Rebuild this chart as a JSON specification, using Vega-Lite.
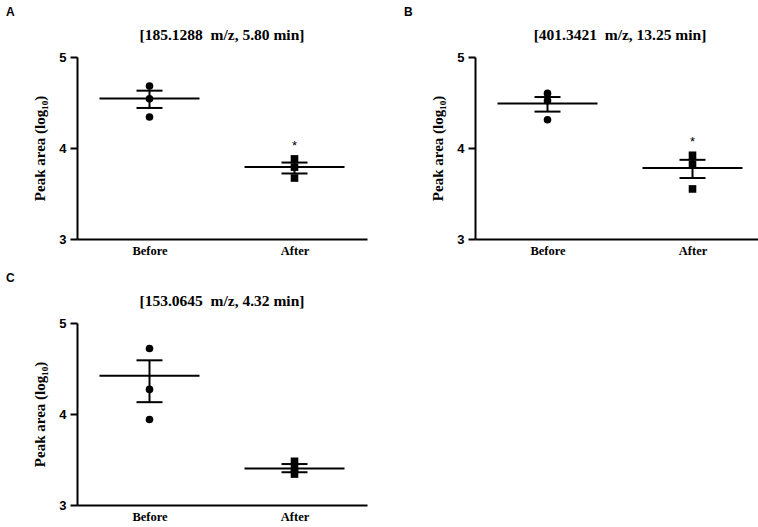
{
  "$schema": "https://vega.github.io/schema/vega-lite/v6.json",
  "padding": {"left": 6, "top": 5, "right": 5, "bottom": 0},
  "background": "white",
  "datasets": {
    "points": [
      {"panel": "A", "group": "Before", "value": 4.68},
      {"panel": "A", "group": "Before", "value": 4.54},
      {"panel": "A", "group": "Before", "value": 4.34},
      {"panel": "A", "group": "After", "value": 3.88},
      {"panel": "A", "group": "After", "value": 3.79},
      {"panel": "A", "group": "After", "value": 3.67},
      {"panel": "B", "group": "Before", "value": 4.60},
      {"panel": "B", "group": "Before", "value": 4.52},
      {"panel": "B", "group": "Before", "value": 4.31},
      {"panel": "B", "group": "After", "value": 3.92},
      {"panel": "B", "group": "After", "value": 3.82},
      {"panel": "B", "group": "After", "value": 3.55},
      {"panel": "C", "group": "Before", "value": 4.72},
      {"panel": "C", "group": "Before", "value": 4.27},
      {"panel": "C", "group": "Before", "value": 3.94},
      {"panel": "C", "group": "After", "value": 3.48},
      {"panel": "C", "group": "After", "value": 3.40},
      {"panel": "C", "group": "After", "value": 3.34}
    ],
    "summary": [
      {"panel": "A", "group": "Before", "mean": 4.545, "lo": 4.44, "hi": 4.63, "star": null},
      {"panel": "A", "group": "After", "mean": 3.79, "lo": 3.72, "hi": 3.84, "star": 4.06},
      {"panel": "B", "group": "Before", "mean": 4.49, "lo": 4.40, "hi": 4.56, "star": null},
      {"panel": "B", "group": "After", "mean": 3.78, "lo": 3.67, "hi": 3.87, "star": 4.10},
      {"panel": "C", "group": "Before", "mean": 4.42, "lo": 4.13, "hi": 4.59, "star": null},
      {"panel": "C", "group": "After", "mean": 3.40, "lo": 3.36, "hi": 3.45, "star": null}
    ]
  },
  "config": {
    "view": {"stroke": null},
    "axis": {
      "domainColor": "black", "domainWidth": 2, "tickColor": "black", "tickWidth": 2,
      "grid": false, "labelColor": "black", "titleColor": "black"
    },
    "axisX": {"title": null, "ticks": false, "labelAngle": 0, "labelFont": "Liberation Serif", "labelFontSize": 12.5, "labelFontWeight": "bold", "labelPadding": 5},
    "tick": {"opacity": 1},
    "title": {"color": "black"}
  },
  "columns": 2,
  "spacing": {"column": 37, "row": 14},
  "concat": [
    {
      "title": {"text": "A", "anchor": "start", "frame": "group", "font": "Liberation Sans", "fontSize": 12, "fontWeight": "bold", "dx": -71, "offset": 9},
      "vconcat": [{
        "width": 290, "height": 182,
        "title": {"text": "[185.1288\u00a0 m/z, 5.80 min]", "font": "Liberation Serif", "fontSize": 15.5, "fontWeight": "bold", "offset": 8},
        "encoding": {
          "x": {"field": "group", "type": "nominal", "sort": ["Before", "After"], "scale": {"type": "point", "padding": 0.5}}
        },
        "layer": [
          {"data": {"name": "summary"}, "transform": [{"filter": "datum.panel === 'A'"}],
           "mark": {"type": "rule", "color": "black", "strokeWidth": 2},
           "encoding": {"y": {"field": "lo", "type": "quantitative", "scale": {"domain": [3, 5], "nice": false},
             "axis": {"tickCount": 2, "labelOverlap": false, "format": "d", "title": "Peak area (log₁₀)", "titleFont": "Liberation Serif", "titleFontSize": 15, "titleFontWeight": "bold", "labelFont": "Liberation Sans", "labelFontSize": 13, "labelFontWeight": "bold", "tickSize": 7, "labelPadding": 4, "titlePadding": 11}},
             "y2": {"field": "hi"}}},
          {"data": {"name": "summary"}, "transform": [{"filter": "datum.panel === 'A'"}],
           "mark": {"type": "tick", "color": "black", "size": 100, "thickness": 2, "opacity": 1},
           "encoding": {"y": {"field": "mean", "type": "quantitative"}}},
          {"data": {"name": "summary"}, "transform": [{"filter": "datum.panel === 'A'"}],
           "mark": {"type": "tick", "color": "black", "size": 26, "thickness": 2, "opacity": 1},
           "encoding": {"y": {"field": "lo", "type": "quantitative"}}},
          {"data": {"name": "summary"}, "transform": [{"filter": "datum.panel === 'A'"}],
           "mark": {"type": "tick", "color": "black", "size": 26, "thickness": 2, "opacity": 1},
           "encoding": {"y": {"field": "hi", "type": "quantitative"}}},
          {"data": {"name": "points"}, "transform": [{"filter": "datum.panel === 'A'"}],
           "mark": {"type": "point", "filled": true, "color": "black", "opacity": 1, "size": 58},
           "encoding": {"y": {"field": "value", "type": "quantitative"},
             "shape": {"field": "group", "type": "nominal", "scale": {"domain": ["Before", "After"], "range": ["circle", "square"]}, "legend": null}}},
          {"data": {"name": "summary"}, "transform": [{"filter": "datum.panel === 'A' && datum.star != null"}],
           "mark": {"type": "text", "text": "*", "font": "Liberation Sans", "fontSize": 13, "color": "black", "baseline": "middle", "dy": 3},
           "encoding": {"y": {"field": "star", "type": "quantitative"}}}
        ]
      }]
    },
    {
      "title": {"text": "B", "anchor": "start", "frame": "group", "font": "Liberation Sans", "fontSize": 12, "fontWeight": "bold", "dx": -71, "offset": 9},
      "vconcat": [{
        "width": 290, "height": 182,
        "title": {"text": "[401.3421\u00a0 m/z, 13.25 min]", "font": "Liberation Serif", "fontSize": 15.5, "fontWeight": "bold", "offset": 8},
        "encoding": {
          "x": {"field": "group", "type": "nominal", "sort": ["Before", "After"], "scale": {"type": "point", "padding": 0.5}}
        },
        "layer": [
          {"data": {"name": "summary"}, "transform": [{"filter": "datum.panel === 'B'"}],
           "mark": {"type": "rule", "color": "black", "strokeWidth": 2},
           "encoding": {"y": {"field": "lo", "type": "quantitative", "scale": {"domain": [3, 5], "nice": false},
             "axis": {"tickCount": 2, "labelOverlap": false, "format": "d", "title": "Peak area (log₁₀)", "titleFont": "Liberation Serif", "titleFontSize": 15, "titleFontWeight": "bold", "labelFont": "Liberation Sans", "labelFontSize": 13, "labelFontWeight": "bold", "tickSize": 7, "labelPadding": 4, "titlePadding": 11}},
             "y2": {"field": "hi"}}},
          {"data": {"name": "summary"}, "transform": [{"filter": "datum.panel === 'B'"}],
           "mark": {"type": "tick", "color": "black", "size": 100, "thickness": 2, "opacity": 1},
           "encoding": {"y": {"field": "mean", "type": "quantitative"}}},
          {"data": {"name": "summary"}, "transform": [{"filter": "datum.panel === 'B'"}],
           "mark": {"type": "tick", "color": "black", "size": 26, "thickness": 2, "opacity": 1},
           "encoding": {"y": {"field": "lo", "type": "quantitative"}}},
          {"data": {"name": "summary"}, "transform": [{"filter": "datum.panel === 'B'"}],
           "mark": {"type": "tick", "color": "black", "size": 26, "thickness": 2, "opacity": 1},
           "encoding": {"y": {"field": "hi", "type": "quantitative"}}},
          {"data": {"name": "points"}, "transform": [{"filter": "datum.panel === 'B'"}],
           "mark": {"type": "point", "filled": true, "color": "black", "opacity": 1, "size": 58},
           "encoding": {"y": {"field": "value", "type": "quantitative"},
             "shape": {"field": "group", "type": "nominal", "scale": {"domain": ["Before", "After"], "range": ["circle", "square"]}, "legend": null}}},
          {"data": {"name": "summary"}, "transform": [{"filter": "datum.panel === 'B' && datum.star != null"}],
           "mark": {"type": "text", "text": "*", "font": "Liberation Sans", "fontSize": 13, "color": "black", "baseline": "middle", "dy": 3},
           "encoding": {"y": {"field": "star", "type": "quantitative"}}}
        ]
      }]
    },
    {
      "title": {"text": "C", "anchor": "start", "frame": "group", "font": "Liberation Sans", "fontSize": 12, "fontWeight": "bold", "dx": -71, "offset": 9},
      "vconcat": [{
        "width": 290, "height": 182,
        "title": {"text": "[153.0645\u00a0 m/z, 4.32 min]", "font": "Liberation Serif", "fontSize": 15.5, "fontWeight": "bold", "offset": 8},
        "encoding": {
          "x": {"field": "group", "type": "nominal", "sort": ["Before", "After"], "scale": {"type": "point", "padding": 0.5}}
        },
        "layer": [
          {"data": {"name": "summary"}, "transform": [{"filter": "datum.panel === 'C'"}],
           "mark": {"type": "rule", "color": "black", "strokeWidth": 2},
           "encoding": {"y": {"field": "lo", "type": "quantitative", "scale": {"domain": [3, 5], "nice": false},
             "axis": {"tickCount": 2, "labelOverlap": false, "format": "d", "title": "Peak area (log₁₀)", "titleFont": "Liberation Serif", "titleFontSize": 15, "titleFontWeight": "bold", "labelFont": "Liberation Sans", "labelFontSize": 13, "labelFontWeight": "bold", "tickSize": 7, "labelPadding": 4, "titlePadding": 11}},
             "y2": {"field": "hi"}}},
          {"data": {"name": "summary"}, "transform": [{"filter": "datum.panel === 'C'"}],
           "mark": {"type": "tick", "color": "black", "size": 100, "thickness": 2, "opacity": 1},
           "encoding": {"y": {"field": "mean", "type": "quantitative"}}},
          {"data": {"name": "summary"}, "transform": [{"filter": "datum.panel === 'C'"}],
           "mark": {"type": "tick", "color": "black", "size": 26, "thickness": 2, "opacity": 1},
           "encoding": {"y": {"field": "lo", "type": "quantitative"}}},
          {"data": {"name": "summary"}, "transform": [{"filter": "datum.panel === 'C'"}],
           "mark": {"type": "tick", "color": "black", "size": 26, "thickness": 2, "opacity": 1},
           "encoding": {"y": {"field": "hi", "type": "quantitative"}}},
          {"data": {"name": "points"}, "transform": [{"filter": "datum.panel === 'C'"}],
           "mark": {"type": "point", "filled": true, "color": "black", "opacity": 1, "size": 58},
           "encoding": {"y": {"field": "value", "type": "quantitative"},
             "shape": {"field": "group", "type": "nominal", "scale": {"domain": ["Before", "After"], "range": ["circle", "square"]}, "legend": null}}}
        ]
      }]
    }
  ]
}
